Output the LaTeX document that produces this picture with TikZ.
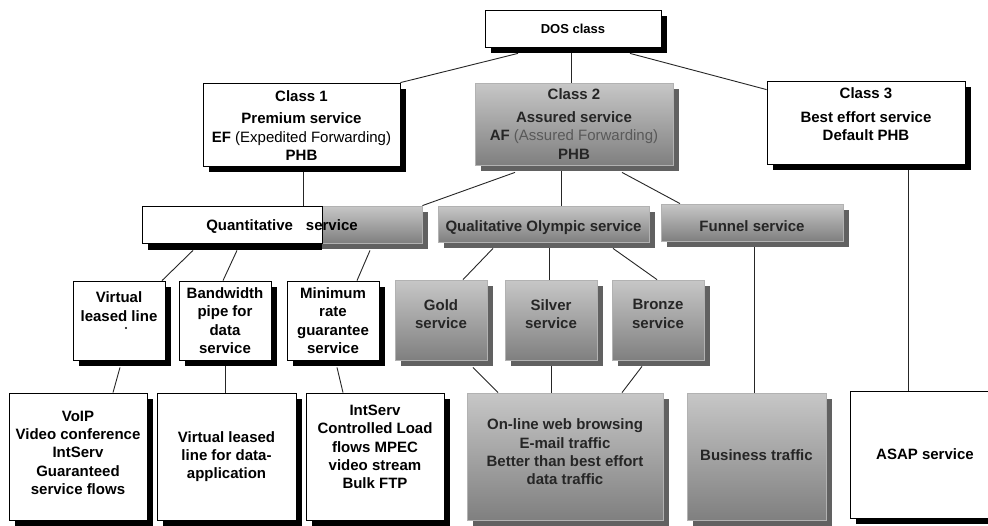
\documentclass[tikz,border=0pt]{standalone}
\usepackage{fontspec}
\setmainfont{Liberation Sans}
\usetikzlibrary{shadows,backgrounds}
\pgfdeclarelayer{bgfill}
\pgfsetlayers{bgfill,background,main}
\tikzset{
  base/.style={rectangle, inner sep=0pt, line width=0.8pt},
  sz/.style 2 args={minimum width=#1pt, minimum height=#2pt},
  wbox/.style={base, draw=black, fill=white,
    drop shadow={shadow xshift=6pt, shadow yshift=-6pt, fill=black, opacity=1}},
  wplain/.style={base, draw=black, fill=white},
  gbox/.style={base, draw=black!30, top color=black!22, bottom color=black!50,
    drop shadow={shadow xshift=6pt, shadow yshift=-6pt, fill=black!62, opacity=1}},
  txt/.style={align=center, font=\fontsize{15}{18.3}\selectfont\bfseries, inner sep=0pt},
  gtxt/.style={txt, text=black!85},
  conn/.style={line width=0.9pt, draw=black!85},
  speck/.style={circle, fill=black, inner sep=0pt, minimum size=2.2pt},
}
\begin{document}
\begin{tikzpicture}[x=1pt,y=-1pt]
\useasboundingbox (0,0) rectangle (988,525);
\begin{pgfonlayer}{bgfill}
  \fill[white] (0,0) rectangle (988,525);
\end{pgfonlayer}

% top
\node[wbox, sz={176}{37}] (dos) at (573,28.5) {};
\node[txt, font=\fontsize{13}{15}\selectfont\bfseries] (tdos) at (dos.center) {DOS class};

% classes
\node[wbox, sz={197}{83}] (c1) at (301.5,124.5) {};
\node[txt] (tc1) at ([yshift=-1pt]c1.center) {Class 1\\[4pt]Premium service\\EF {\mdseries(Expedited Forwarding)}\\PHB};

\node[gbox, sz={198}{82}] (c2) at (574,124) {};
\node[gtxt] (tc2) at (c2.center) {Class 2\\[4.5pt]Assured service\\AF {\mdseries\color{black!65}(Assured Forwarding)}\\PHB};

\node[wbox, sz={198}{83}] (c3) at (866,122.5) {};
\node[txt] (tc3) at ([yshift=8pt]c3.center) {Class 3\\[5.5pt]Best effort service\\Default PHB};

% second level
\node[gbox, sz={280}{37}] (quantg) at (282,224.5) {};
\node[wplain, sz={180}{37}] (quantw) at (232,224.5) {};
\fill[black] ([xshift=6pt]quantw.south west) rectangle ([yshift=-7pt]quantw.south east);
\node[txt] (tquant) at ([yshift=-2.5pt]quantg.center) {Quantitative\hspace{13pt}service};

\node[gbox, sz={211}{36}] (qual) at (543.5,224) {};
\node[gtxt] (tqual) at ([yshift=-4pt]qual.center) {Qualitative Olympic service};

\node[gbox, sz={182}{37}] (funnel) at (752,222.5) {};
\node[gtxt] (tfunnel) at ([yshift=-3.5pt]funnel.center) {Funnel service};

% third level
\node[wbox, sz={92}{79}] (vll) at (119,320.5) {};
\node[txt] (tvll) at ([yshift=14pt]vll.center) {Virtual\\leased line};
\node[speck] (dot) at ([xshift=7pt,yshift=-7.5pt]vll.center) {};

\node[wbox, sz={92}{79}] (bw) at (225,320.5) {};
\node[txt] (tbw) at (bw.center) {Bandwidth\\pipe for\\data\\service};

\node[wbox, sz={92}{79}] (minr) at (333,320.5) {};
\node[txt] (tminr) at (minr.center) {Minimum\\rate\\guarantee\\service};

\node[gbox, sz={92}{80}] (gold) at (441,320) {};
\node[gtxt] (tgold) at ([yshift=6pt]gold.center) {Gold\\service};

\node[gbox, sz={92}{80}] (silver) at (551,320) {};
\node[gtxt] (tsilver) at ([yshift=6pt]silver.center) {Silver\\service};

\node[gbox, sz={92}{80}] (bronze) at (658,320) {};
\node[gtxt] (tbronze) at ([yshift=6pt]bronze.center) {Bronze\\service};

% bottom level
\node[wbox, sz={138}{127}] (voip) at (78,456.5) {};
\node[txt] (tvoip) at ([yshift=3.8pt]voip.center) {VoIP\\Video conference\\IntServ\\Guaranteed\\service flows};

\node[wbox, sz={139}{127}] (vlld) at (226.5,456.5) {};
\node[txt] (tvlld) at (vlld.center) {Virtual leased\\line for data-\\application};

\node[wbox, sz={138}{127}] (intserv) at (375,456.5) {};
\node[txt] (tintserv) at ([yshift=9.5pt]intserv.center) {IntServ\\Controlled Load\\flows MPEC\\video stream\\Bulk FTP};

\node[gbox, sz={196}{127}] (online) at (565,456.5) {};
\node[gtxt] (tonline) at ([yshift=4.5pt]online.center) {On-line web browsing\\E-mail traffic\\Better than best effort\\data traffic};

\node[gbox, sz={139}{127}] (business) at (756.5,456.5) {};
\node[gtxt] (tbusiness) at ([yshift=1.5pt]business.center) {Business traffic};

\node[wbox, sz={150}{127}] (asap) at (925,454.5) {};
\node[txt] (tasap) at (asap.center) {ASAP service};

% connectors
\begin{pgfonlayer}{background}
\draw[conn] ([xshift=-55pt,yshift=-6pt]dos.south) -- (c1.north east);
\draw[conn] ([xshift=-2pt]dos.south) -- ([xshift=-3pt]c2.north);
\draw[conn] ([xshift=57pt,yshift=-6pt]dos.south) -- ([yshift=-9pt]c3.north west);
\draw[conn] ([xshift=1.5pt]c1.south) -- ([xshift=71pt]quantw.north);
\draw[conn] ([xshift=-59pt,yshift=-7pt]c2.south) -- (quantg.north east);
\draw[conn] ([xshift=-13pt]c2.south) -- ([xshift=17.5pt]qual.north);
\draw[conn] ([xshift=48pt,yshift=-7pt]c2.south) -- ([xshift=-72pt]funnel.north);
\draw[conn] ([xshift=42pt]c3.south) -- ([xshift=-17pt]asap.north);
\draw[conn] ([xshift=2pt]funnel.south) -- ([xshift=-2.5pt]business.north);
\draw[conn] ([xshift=-39pt,yshift=-7pt]quantw.south) -- ([xshift=43pt]vll.north);
\draw[conn] ([xshift=5pt,yshift=-7pt]quantw.south) -- ([xshift=-2pt]bw.north);
\draw[conn] ([xshift=88pt,yshift=-7pt]quantg.south) -- ([xshift=24pt]minr.north);
\draw[conn] ([xshift=-50.5pt,yshift=-6pt]qual.south) -- ([xshift=22pt]gold.north);
\draw[conn] ([xshift=5.5pt]qual.south) -- ([xshift=-2pt]silver.north);
\draw[conn] ([xshift=69.5pt,yshift=-6pt]qual.south) -- ([xshift=-1pt]bronze.north);
\draw[conn] ([xshift=1pt,yshift=-7pt]vll.south) -- ([xshift=35pt]voip.north);
\draw[conn] (bw.south) -- ([xshift=-1.5pt]vlld.north);
\draw[conn] ([xshift=4pt,yshift=-7pt]minr.south) -- ([xshift=-32pt]intserv.north);
\draw[conn] ([xshift=32pt,yshift=-7pt]gold.south) -- ([xshift=-67pt]online.north);
\draw[conn] (silver.south) -- ([xshift=-14pt]online.north);
\draw[conn] ([xshift=-16pt,yshift=-6pt]bronze.south) -- ([xshift=57pt]online.north);
\end{pgfonlayer}
\end{tikzpicture}
\end{document}
